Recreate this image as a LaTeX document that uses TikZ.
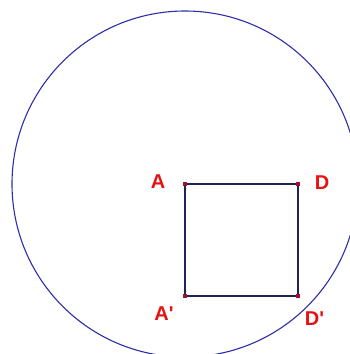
\documentclass[tikz,border=0pt]{standalone}
\usepackage{fontspec}
\setmainfont{Liberation Sans}
\definecolor{circblue}{HTML}{2E2EA8}
\definecolor{sqnavy}{HTML}{23235A}
\definecolor{lblred}{HTML}{E81010}
\definecolor{ptred}{HTML}{A01030}
\tikzset{
  lbl/.style={text=lblred,font=\bfseries\fontsize{20}{20}\selectfont,inner sep=0pt},
  pt/.style={fill=ptred,minimum size=3.5pt,inner sep=0pt,draw=none,rectangle},
  edge/.style={draw=sqnavy,line width=1.3pt},
  circ/.style={draw=circblue,line width=1.1pt}
}
\begin{document}
\begin{tikzpicture}[x=1pt,y=-1pt]
\useasboundingbox (0,0) rectangle (350,354);
\clip (0,0) rectangle (350,354);
\fill[white] (0,0) rectangle (350,354);
\coordinate (O) at (185,184);
\draw[circ] (O) circle[radius=173];
\node[pt] (A) at (185,184) {};
\node[pt] (D) at (298,184) {};
\node[pt] (A2) at (185,296) {};
\node[pt] (D2) at (298,296) {};
\draw[edge] (A.center) -- (D.center) -- (D2.center) -- (A2.center) -- cycle;
\node[pt] at (A) {};
\node[pt] at (D) {};
\node[pt] at (A2) {};
\node[pt] at (D2) {};
\node[lbl] (lA) at (158,182) {A};
\node[lbl] (lD) at (322,183) {D};
\node[lbl] (lA2) at (164,314) {A\textquotesingle};
\node[lbl] (lD2) at (314.5,319) {D\textquotesingle};
\end{tikzpicture}
\end{document}
